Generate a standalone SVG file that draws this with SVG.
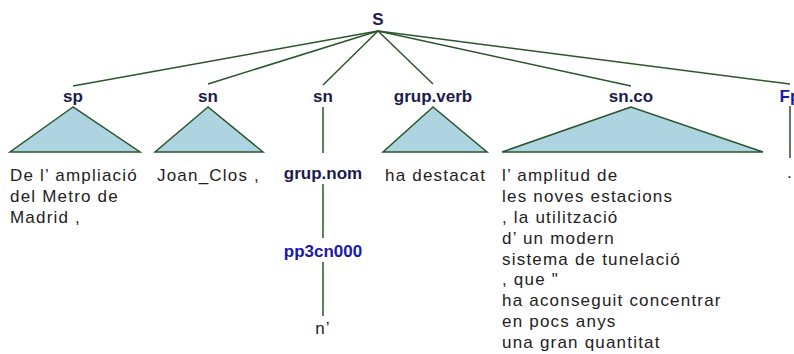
<svg xmlns="http://www.w3.org/2000/svg" width="794" height="354" viewBox="0 0 794 354">
<style>
.bg{fill:#ffffff}
.lab{font-family:"Liberation Sans",Arial,sans-serif;font-weight:bold;font-size:17px;fill:#1c1c4c;text-anchor:middle}
.pos{font-family:"Liberation Sans",Arial,sans-serif;font-weight:bold;font-size:17px;fill:#1a1aa8;text-anchor:middle}
.leaf{font-family:"Liberation Sans",Arial,sans-serif;font-size:17px;fill:#222222;letter-spacing:1.2px}
.edge{stroke:#2b552b;stroke-width:1.5;fill:none}
.tri{fill:#add4e0;stroke:#2b552b;stroke-width:1.5;stroke-linejoin:miter}
</style>
<rect class="bg" x="0" y="0" width="794" height="354"/>
<g id="connectors">
<line class="edge" x1="378" y1="31" x2="73" y2="86"/>
<line class="edge" x1="378" y1="31" x2="208" y2="84"/>
<line class="edge" x1="378" y1="31" x2="323" y2="85"/>
<line class="edge" x1="378" y1="31" x2="433" y2="84"/>
<line class="edge" x1="378" y1="31" x2="631" y2="86"/>
<line class="edge" x1="378" y1="31" x2="790" y2="84"/>
<line class="edge" x1="323" y1="107" x2="323" y2="153"/>
<line class="edge" x1="323" y1="184" x2="323" y2="238"/>
<line class="edge" x1="323" y1="262" x2="323" y2="316"/>
<line class="edge" x1="790" y1="106" x2="790" y2="158"/>
</g>
<g id="S"><text class="lab" x="378" y="25">S</text></g>
<g id="sp">
<text class="lab" x="73" y="102">sp</text>
<polygon class="tri" points="73,107 10,152 140,152"/>
<text class="leaf" x="10" y="181">De l’ ampliació</text>
<text class="leaf" x="10" y="202">del Metro de</text>
<text class="leaf" x="10" y="223">Madrid ,</text>
</g>
<g id="sn1">
<text class="lab" x="208" y="102">sn</text>
<polygon class="tri" points="208,107 155,152 263,152"/>
<text class="leaf" x="157" y="181">Joan_Clos ,</text>
</g>
<g id="sn2">
<text class="lab" x="323" y="102">sn</text>
</g>
<g id="grup.nom"><text class="lab" x="323" y="179">grup.nom</text></g>
<g id="pp3cn000"><text class="pos" x="323" y="257">pp3cn000</text></g>
<g id="n"><text class="leaf" x="323" y="334" text-anchor="middle">n’</text></g>
<g id="grup.verb">
<text class="lab" x="433" y="102">grup.verb</text>
<polygon class="tri" points="433,107 383,152 487,152"/>
<text class="leaf" x="385" y="181">ha destacat</text>
</g>
<g id="sn.co">
<text class="lab" x="631" y="102">sn.co</text>
<polygon class="tri" points="631,107 502,152 763,152"/>
<text class="leaf" x="502" y="181">l’ amplitud de</text>
<text class="leaf" x="502" y="202">les noves estacions</text>
<text class="leaf" x="502" y="223">, la utilització</text>
<text class="leaf" x="502" y="244">d’ un modern</text>
<text class="leaf" x="502" y="265">sistema de tunelació</text>
<text class="leaf" x="502" y="285">, que "</text>
<text class="leaf" x="502" y="306">ha aconseguit concentrar</text>
<text class="leaf" x="502" y="327">en pocs anys</text>
<text class="leaf" x="502" y="348">una gran quantitat</text>
</g>
<g id="Fp">
<text class="pos" x="790" y="102">Fp</text>
<text class="leaf" x="787" y="178">.</text>
</g>
</svg>
